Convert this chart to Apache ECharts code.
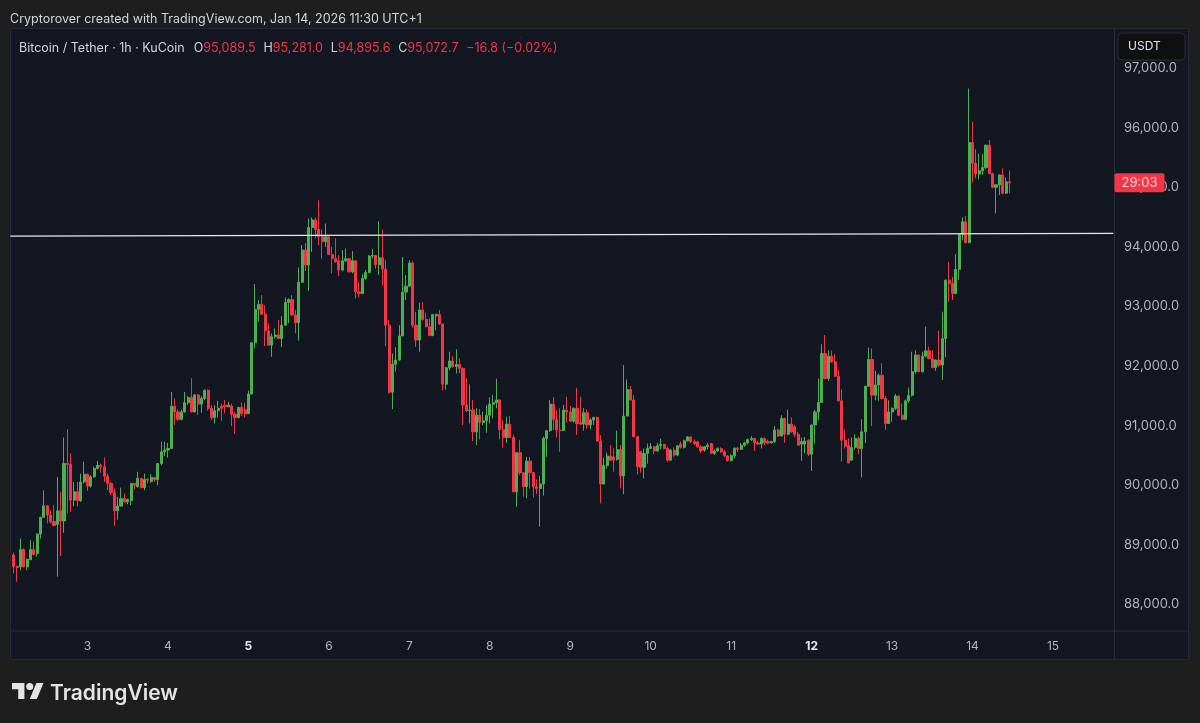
<!DOCTYPE html>
<html lang="en">
<head>
    <meta charset="UTF-8">
    <title>BTC/USDT 1h</title>
    <script src="https://cdn.jsdelivr.net/npm/echarts@6/dist/echarts.min.js"></script>
    <style>
        html, body { margin: 0; padding: 0; background: #1e1e1e; }
        #main { width: 1200px; height: 723px; }
    </style>
</head>
<body>
<div id="main"></div>
<script>
    // hourly candles, one array per day: [open, close, low, high]
    var jan02 = [[88830,88630,88520,88870],[88640,88620,88380,88650],[88630,88920,88575,89105],[88920,88630,88620,88940],[88630,88755,88575,88770],[88750,88920,88740,89080],[88920,88840,88825,89050],[88850,89180,88800,89190],[89180,89460,89105,89470],[89460,89655,89455,89915],[89655,89500,89360,89665],[89500,89385,89360,89580],[89390,89325,89310,89665],[89340,89570,88465,90140],[89570,89400,88810,89890],[89400,90365,89200,90800],[90365,90350,89525,90940],[90350,89750,89555,90535],[89750,89890,89650,90055],[89890,89740,89640,90055],[89740,90055,89720,90195],[90055,90185,90030,90395]];
    var jan03 = [[90185,89985,89905,90195],[89985,90140,89960,90170],[90140,90280,90130,90310],[90280,90330,90265,90405],[90335,90310,90210,90365],[90310,90150,90055,90465],[90150,90030,89915,90195],[90030,89875,89835,90055],[89875,89570,89320,89945],[89570,89650,89425,89805],[89650,89775,89640,89960],[89775,89720,89705,89860],[89720,89760,89680,89775],[89740,90030,89665,90030],[90030,90000,89930,90040],[89975,90115,89960,90225],[90115,89960,89945,90115],[89960,90095,89915,90195],[90100,90085,90030,90115],[90060,90130,90040,90185],[90130,90095,90055,90140],[90095,90365,90000,90370],[90365,90560,90335,90730],[90560,90590,90490,90730]];
    var jan04 = [[90590,90615,90465,90710],[90615,91325,90610,91565],[91325,91230,91010,91455],[91230,91105,91080,91270],[91105,91230,91090,91270],[91230,91385,91215,91565],[91385,91470,91345,91495],[91470,91230,91220,91795],[91230,91515,91220,91530],[91515,91360,91175,91530],[91360,91455,91215,91495],[91455,91595,91425,91605],[91595,91290,91250,91605],[91290,91135,91090,91345],[91135,91250,91035,91345],[91250,91290,91135,91415],[91325,91290,91080,91370],[91340,91315,91205,91430],[91315,91345,91305,91400],[91330,91190,90990,91370],[91190,91135,90855,91230],[91135,91305,91120,91315],[91305,91205,91160,91385],[91265,91195,91135,91385]];
    var jan05 = [[91200,91530,91195,91585],[91530,92390,91525,92395],[92390,92950,92295,93375],[92950,93035,92740,93105],[93035,92870,92855,93190],[92870,92590,92335,93020],[92590,92350,92340,92715],[92350,92490,92155,92545],[92490,92520,92460,92630],[92520,92460,92450,92770],[92460,92685,92320,92835],[92685,93065,92680,93150],[93065,93115,92715,93135],[93115,92855,92840,93190],[92855,92725,92545,92940],[92725,93405,92425,93655],[93405,93945,93395,94030],[93945,93695,93595,94065],[93695,94325,93255,94475],[94325,94450,93915,94490],[94450,94290,94140,94490],[94290,94170,94030,94785],[94170,94085,93805,94290],[94085,94170,94000,94390]];
    var jan06 = [[94170,93870,93860,94195],[93870,93805,93555,94000],[93805,93750,93730,94140],[93765,93610,93510,93860],[93610,93765,93590,93945],[93765,93800,93750,93970],[93800,93580,93570,93805],[93580,93765,93555,93930],[93765,93245,93135,93775],[93245,93215,93150,93415],[93215,93470,93205,93540],[93470,93570,93450,93610],[93570,93845,93555,93860],[93845,93855,93800,93965],[93855,93700,93635,93865],[93700,93815,93525,94430],[93815,93625,93355,94290],[93625,92685,92335,93775],[92685,91560,91540,92770],[91560,92030,91275,92210],[92030,92100,91905,92320],[92100,92505,92085,92685],[92505,93240,92500,93830],[93240,93340,93105,93525]];
    var jan07 = [[93340,93730,93330,93775],[93730,92685,92645,93765],[92685,92435,92320,92910],[92435,92940,92240,93060],[92940,92780,92760,93075],[92780,92660,92650,92895],[92660,92510,92500,92800],[92510,92865,92500,92870],[92840,92865,92600,92880],[92865,92705,92685,92940],[92705,91695,91595,92715],[91695,91970,91605,91985],[91970,92085,91930,92240],[92085,91990,91975,92170],[91990,92025,91875,92280],[92025,91960,91875,92125],[91960,91345,91010,91975],[91345,91250,91230,91790],[91250,91260,91035,91690],[91260,90895,90740,91430],[90895,91175,90675,91290],[91175,91050,90770,91275],[91050,91080,91010,91235],[91080,91175,90880,91345]];
    var jan08 = [[91175,91360,91035,91475],[91360,91385,91120,91510],[91385,91430,91290,91785],[91430,90935,90770,91440],[90935,90800,90630,91095],[90800,91025,90710,91150],[91025,90800,90790,91160],[90800,89890,89880,90840],[89890,90545,89640,90560],[90545,90210,90170,90755],[90210,89975,89805,90225],[89975,90405,89780,90475],[90405,90210,89945,90475],[90210,89975,89795,90225],[89975,89945,89850,90095],[89945,90020,89305,90155],[90020,90785,89825,90815],[90785,90915,90475,90925],[90915,91360,90895,91430],[91360,91105,90925,91475],[91105,90925,90800,91260],[90925,90915,90560,91290],[90915,91260,90910,91345],[91260,91230,91050,91485]];
    var jan09 = [[91230,91075,91065,91330],[91075,91290,91050,91305],[91290,91035,90840,91635],[91050,91025,91015,91485],[91025,91215,90915,91290],[91215,91010,90950,91270],[91010,91095,90935,91120],[91095,91135,91010,91150],[91135,90740,90730,91150],[90740,90020,89695,90840],[90020,90330,90015,90465],[90330,90490,90280,90545],[90490,90420,90410,90675],[90475,90420,90225,90620],[90435,90600,90410,90915],[90600,90155,89945,90675],[90155,91160,89850,92015],[91160,91605,91155,91775],[91605,91430,91415,91665],[91430,90815,90800,91510],[90815,90310,90180,90825],[90565,90300,90210,90570],[90300,90535,90115,90615],[90535,90620,90365,90700]];
    var jan10 = [[90620,90645,90605,90710],[90645,90575,90520,90655],[90575,90660,90565,90710],[90660,90685,90600,90780],[90685,90615,90600,90690],[90615,90420,90395,90645],[90420,90590,90420,90610],[90590,90505,90475,90635],[90505,90660,90490,90675],[90690,90635,90615,90730],[90635,90745,90615,90765],[90745,90810,90730,90825],[90810,90730,90710,90825],[90730,90700,90675,90765],[90725,90645,90630,90745],[90645,90575,90535,90670],[90590,90645,90560,90655],[90645,90670,90600,90710],[90700,90535,90520,90710],[90535,90575,90505,90600],[90575,90615,90560,90635],[90615,90560,90545,90635],[90560,90490,90475,90590],[90490,90410,90395,90505]];
    var jan11 = [[90410,90495,90400,90520],[90495,90620,90450,90635],[90620,90600,90560,90645],[90600,90670,90600,90710],[90670,90710,90645,90730],[90710,90765,90685,90785],[90765,90785,90740,90825],[90785,90710,90575,90800],[90710,90690,90675,90745],[90690,90785,90615,90800],[90785,90710,90675,90800],[90735,90710,90690,90765],[90710,90730,90700,90745],[90730,90925,90710,90990],[90925,90825,90810,90950],[90825,91120,90820,91175],[91120,90855,90710,91135],[90855,91025,90840,91270],[91025,90895,90880,91135],[90980,90855,90810,91010],[90855,90670,90660,90895],[90690,90730,90410,90800],[90690,90740,90535,90810],[90755,90520,90490,90770]];
    var jan12 = [[90520,91010,90240,91020],[91010,91230,90700,91260],[91230,91390,91090,91790],[91390,92210,91385,92365],[92210,91790,91775,92520],[91790,92165,91750,92265],[92165,92070,92055,92255],[92070,91830,91820,92200],[91830,91415,91405,91940],[91415,90755,90395,91605],[90755,90655,90615,90935],[90670,90375,90365,90785],[90420,90635,90410,90800],[90635,90785,90600,90855],[90785,90615,90520,90815],[90615,90895,90130,91105],[90895,91660,90710,91670],[91660,92110,91650,92310],[92110,91510,90990,92295],[91510,91680,91425,91920],[91680,91845,91415,91875],[91845,91455,91440,92045],[91455,91035,90925,91495],[91035,91230,91025,91425]];
    var jan13 = [[91230,91290,91065,91305],[91290,91495,91260,91530],[91495,91175,91160,91510],[91175,91105,91090,91370],[91105,91415,91090,91440],[91415,91510,91380,91640],[91510,91905,91485,92240],[91905,92185,91875,92265],[92185,91905,91895,92190],[91905,92165,91890,92240],[92165,92255,92145,92660],[92255,92125,92110,92325],[92125,91975,91960,92265],[91975,92100,91920,92110],[92100,92015,91985,92590],[92015,92460,91765,92910],[92460,93440,92145,93450],[93440,93385,93080,93750],[93385,93215,93105,93495],[93215,93620,93205,93875],[93620,94205,93440,94225],[94205,94420,94110,94495],[94420,94070,94055,94515],[94070,95750,94060,96655]];
    var jan14 = [[95750,95400,95075,96100],[95400,95220,95150,95635],[95220,95275,95130,95565],[95275,95330,95205,95555],[95330,95705,95300,95715],[95705,95230,95220,95790],[95230,95000,94980,95245],[95000,95040,94560,95050],[95040,95205,94870,95220],[95205,94900,94880,95315],[94900,95089.5,94885,95165],[95089.5,95072.7,94895.6,95281.0]];

    var trendLine = [94180, 94225];     // white level, left end and right end
    var dayTicks = ['3', '4', '5', '6', '7', '8', '9', '10', '11', '12', '13', '14', '15'];
    var boldTicks = ['5', '12'];
    var priceTicks = { min: 88000, max: 97000, step: 1000 };
    var lastBar = { o: '95,089.5', h: '95,281.0', l: '94,895.6', c: '95,072.7', chg: '\u221216.8 (\u22120.02%)' };
    var countdown = '29:03';

    var up = '#4caf50';
    var down = '#f23645';
    var textGrey = '#b2b5be';
    var FONT = 'Inter, "Noto Sans", sans-serif';

    // 1 empty hour on the left (Jan 2 01:00), then the days up to the right edge of the pane
    var candles = [['-', '-', '-', '-']].concat(jan02, jan03, jan04, jan05, jan06, jan07, jan08, jan09, jan10, jan11, jan12, jan13, jan14);
    var hours = 330;
    var firstMidnight = 23;
    var categories = [];
    var linePoints = [];
    for (var i = 0; i < hours; i++) {
        var d = (i - firstMidnight) / 24;
        categories.push(d >= 0 && d === Math.floor(d) && dayTicks[d] ? dayTicks[d] : '');
        linePoints.push(null);
    }
    linePoints[0] = trendLine[0];
    linePoints[hours - 1] = trendLine[1];

    var chart = echarts.init(document.getElementById('main'));
    var headerText = '{n|Bitcoin / Tether \u00b7 1h \u00b7 KuCoin}{g1| }{n|O}{r|' + lastBar.o + '}{g2| }{n|H}{r|' + lastBar.h +
        '}{g2| }{n|L}{r|' + lastBar.l + '}{g2| }{n|C}{r|' + lastBar.c + '}{g2| }{r|' + lastBar.chg + '}';

    chart.setOption({
        backgroundColor: '#1e1e1e',
        animation: false,
        textStyle: { fontFamily: FONT },
        title: [{
            text: 'Cryptorover created with TradingView.com, Jan 14, 2026 11:30 UTC+1',
            left: 5, top: 8,
            textStyle: { color: '#d1d4dc', fontSize: 12.5, fontWeight: 'normal', fontFamily: FONT }
        }, {
            text: headerText,
            left: 14, top: 37,
            textStyle: {
                fontWeight: 'normal',
                rich: {
                    n: { color: '#d1d4dc', fontSize: 12.5, fontWeight: 'normal', fontFamily: FONT },
                    r: { color: down, fontSize: 12.5, fontWeight: 'normal', fontFamily: FONT },
                    g1: { width: 9, fontSize: 12.5 },
                    g2: { width: 7.8, fontSize: 12.5 }
                }
            }
        }, {
            text: 'TradingView',
            left: 45, top: 678,
            textStyle: { color: '#e4e4e4', fontSize: 21, fontWeight: 600, fontFamily: FONT }
        }],
        grid: { left: 8.72, top: 68, width: 1106.3, height: 536.4 },
        xAxis: {
            type: 'category',
            data: categories,
            boundaryGap: true,
            axisLine: { show: false },
            axisTick: { show: false },
            splitLine: { show: false },
            axisLabel: {
                interval: 0,
                margin: 36,
                color: textGrey,
                fontSize: 12,
                fontFamily: FONT,
                formatter: function (value) {
                    return boldTicks.indexOf(value) >= 0 ? '{b|' + value + '}' : value;
                },
                rich: { b: { color: '#e6e8ee', fontWeight: 'bold', fontSize: 12, fontFamily: FONT } }
            }
        },
        yAxis: {
            type: 'value',
            position: 'right',
            min: priceTicks.min,
            max: priceTicks.max,
            interval: priceTicks.step,
            axisLine: { show: false },
            axisTick: { show: false },
            splitLine: { show: false },
            axisLabel: {
                margin: 9,
                color: textGrey,
                fontSize: 13,
                fontFamily: FONT,
                formatter: function (value) {
                    return value.toLocaleString('en-US') + '.0';
                }
            }
        },
        series: [{
            type: 'candlestick',
            data: candles,
            barWidth: 2.6,
            silent: true,
            itemStyle: { color: up, color0: down, borderColor: up, borderColor0: down, borderWidth: 1 }
        }, {
            type: 'line',
            data: linePoints,
            connectNulls: true,
            symbol: 'none',
            silent: true,
            lineStyle: { color: '#e8e8e8', width: 1.2 }
        }]
    });

    // pane, dividers, logo, unit button and countdown tag
    var tagY = chart.convertToPixel({ yAxisIndex: 0 }, 95072.7);
    chart.setOption({
        graphic: [
            { type: 'rect', z: -10, shape: { x: 10.5, y: 28.5, width: 1178, height: 631 }, style: { fill: '#121721', stroke: '#262a35', lineWidth: 1 } },
            { type: 'line', z: -5, shape: { x1: 1114.5, y1: 29, x2: 1114.5, y2: 659 }, style: { stroke: '#2a2e39', lineWidth: 1 } },
            { type: 'line', z: -5, shape: { x1: 11, y1: 631, x2: 1188, y2: 631 }, style: { stroke: '#2a2e39', lineWidth: 1 } },
            {
                type: 'group', x: 12, y: 679.4, scaleX: 0.887, scaleY: 0.889, z: 10,
                children: [
                    { type: 'polygon', shape: { points: [[0, 4], [14, 4], [14, 22], [7, 22], [7, 11], [0, 11]] }, style: { fill: '#e4e4e4' } },
                    { type: 'polygon', shape: { points: [[28, 22], [20, 22], [27.5, 4], [35.5, 4]] }, style: { fill: '#e4e4e4' } },
                    { type: 'circle', shape: { cx: 20, cy: 8, r: 4 }, style: { fill: '#e4e4e4' } }
                ]
            },
            { type: 'rect', z: 20, shape: { x: 1118, y: 33, width: 67, height: 27, r: 4 }, style: { fill: '#0f0f0f', stroke: '#2a2e39', lineWidth: 1 } },
            { type: 'text', z: 21, x: 1128, y: 46, style: { text: 'USDT', fill: '#e0e3eb', font: '12px ' + FONT, verticalAlign: 'middle' } },
            { type: 'rect', z: 20, shape: { x: 1114.5, y: tagY - 9.5, width: 50, height: 19, r: 2 }, style: { fill: down } },
            { type: 'text', z: 21, x: 1139.5, y: tagY, style: { text: countdown, fill: '#fcd5d9', font: '13px ' + FONT, align: 'center', verticalAlign: 'middle' } }
        ]
    });
</script>
</body>
</html>
